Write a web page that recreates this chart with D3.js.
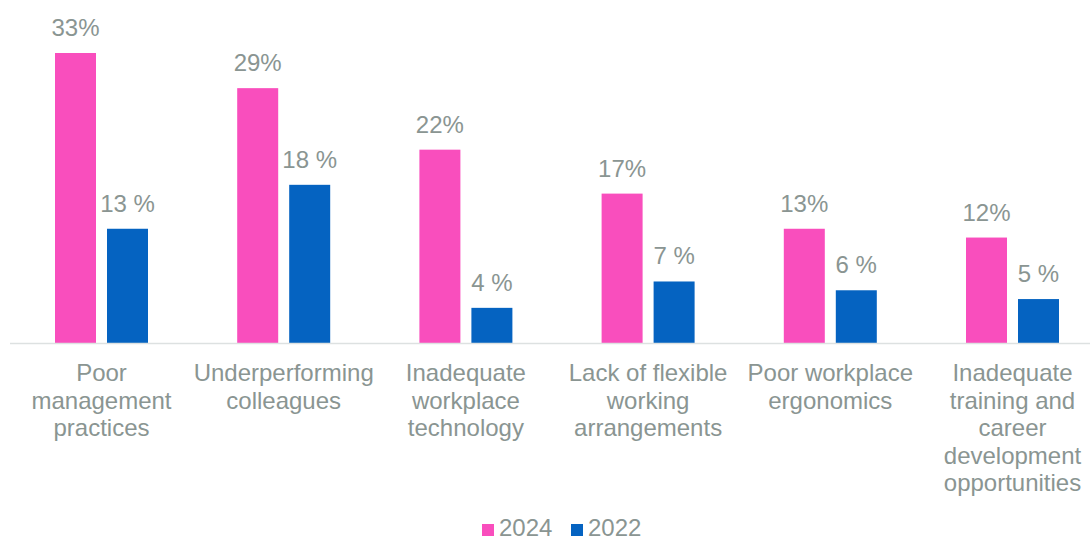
<!DOCTYPE html>
<html>
<head>
<meta charset="utf-8">
<script src="https://cdn.jsdelivr.net/npm/d3@7"></script>
<style>
  html, body { margin: 0; padding: 0; background: #ffffff; }
  svg { display: block; font-family: "Liberation Sans", Arial, sans-serif; }
</style>
</head>
<body>
<svg id="chart" width="1090" height="542"></svg>
<script>
// Categories and survey shares (percent) for each year
const categories = [
  "Poor management practices",
  "Underperforming colleagues",
  "Inadequate workplace technology",
  "Lack of flexible working arrangements",
  "Poor workplace ergonomics",
  "Inadequate training and career development opportunities"
];
const years = ["2024", "2022"];
const values2024 = [33, 29, 22, 17, 13, 12];
const values2022 = [13, 18, 4, 7, 6, 5];
// Label formats per series (2022 labels carry a space before %)
const labelFormats = { "2024": v => v + "%", "2022": v => v + " %" };

const colors = { "2024": "#F94EBD", "2022": "#0563C1" };
const textColor = "#8A9592";

const svg = d3.select("#chart");
const baseline = 343;

const x = d3.scaleBand()
  .domain(categories)
  .range([10.4, 1103.6]);

// Two bars per category, 41px wide with an 11px gap, centred in the band
const barW = 41;
const xInner = d3.scaleBand()
  .domain(years)
  .range([x.bandwidth() / 2 - 46.5, x.bandwidth() / 2 + 46.5])
  .paddingInner(11 / 52);

const y = d3.scaleLinear()
  .domain([0, 33])
  .range([baseline, 53]);

const series = years.map(yr => ({
  year: yr,
  values: yr === "2024" ? values2024 : values2022
}));

// Bars and value labels
const groups = svg.append("g").selectAll("g")
  .data(categories)
  .join("g")
  .attr("transform", d => `translate(${x(d)},0)`);

groups.each(function (cat, i) {
  const g = d3.select(this);
  series.forEach(s => {
    const left = xInner(s.year);
    const w = xInner.bandwidth();
    const v = s.values[i];
    g.append("rect")
      .attr("x", left)
      .attr("y", y(v))
      .attr("width", w)
      .attr("height", y(0) - y(v))
      .attr("fill", colors[s.year]);
    g.append("text")
      .attr("x", left + w / 2)
      .attr("y", y(v) - 17)
      .attr("text-anchor", "middle")
      .attr("font-size", 24)
      .attr("fill", textColor)
      .text(labelFormats[s.year](v));
  });
});

// Category axis line
svg.append("line")
  .attr("x1", 10).attr("x2", 1090)
  .attr("y1", baseline + 0.5).attr("y2", baseline + 0.5)
  .attr("stroke", "#DDE1E1")
  .attr("stroke-width", 1.5);

// Category labels, wrapped to the band width
function wrap(textSel, width) {
  textSel.each(function () {
    const text = d3.select(this);
    const words = text.text().split(/\s+/);
    const xPos = text.attr("x");
    text.text(null);
    let line = [];
    let tspan = text.append("tspan").attr("x", xPos).attr("dy", 0);
    words.forEach(w => {
      line.push(w);
      tspan.text(line.join(" "));
      if (tspan.node().getComputedTextLength() > width && line.length > 1) {
        line.pop();
        tspan.text(line.join(" "));
        line = [w];
        tspan = text.append("tspan").attr("x", xPos).attr("dy", 27.6).text(w);
      }
    });
  });
}

svg.append("g").selectAll("text")
  .data(categories)
  .join("text")
  .attr("x", d => x(d) + x.bandwidth() / 2)
  .attr("y", 381)
  .attr("text-anchor", "middle")
  .attr("font-size", 24)
  .attr("fill", textColor)
  .text(d => d)
  .call(wrap, 184);

// Legend
const legend = svg.append("g");
const legendItems = [
  { year: "2024", x: 482 },
  { year: "2022", x: 571 }
];
legendItems.forEach(item => {
  legend.append("rect")
    .attr("x", item.x).attr("y", 524)
    .attr("width", 12).attr("height", 12)
    .attr("fill", colors[item.year]);
  legend.append("text")
    .attr("x", item.x + 17).attr("y", 536)
    .attr("font-size", 24)
    .attr("fill", textColor)
    .text(item.year);
});
</script>
</body>
</html>
